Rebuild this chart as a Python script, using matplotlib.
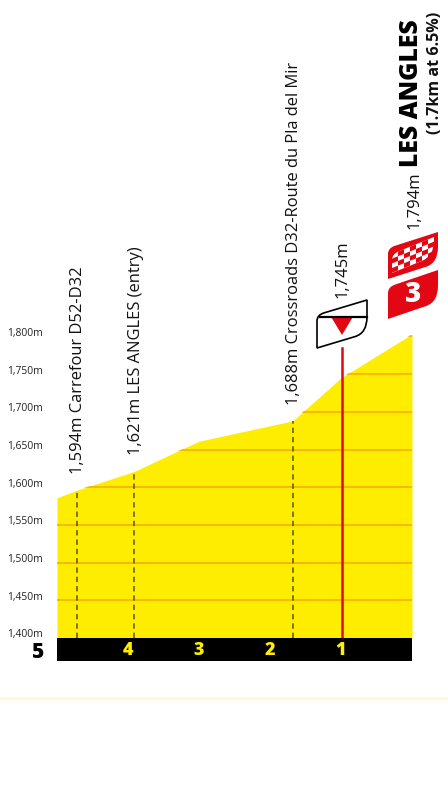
import matplotlib.pyplot as plt
from matplotlib.patches import Polygon, PathPatch, Rectangle
from matplotlib.path import Path
from matplotlib.transforms import ScaledTranslation

plt.rcParams['font.family'] = ['Open Sans', 'DejaVu Sans']

# profile
km = [5, 4.72, 3.91, 3.0, 1.68, 1.0, 0]
alt = [1586, 1596, 1621, 1661, 1688, 1745, 1803]

alt_ticks = [1400, 1450, 1500, 1550, 1600, 1650, 1700, 1750, 1800]
alt_labels = ['1,400m', '1,450m', '1,500m', '1,550m', '1,600m', '1,650m', '1,700m', '1,750m', '1,800m']

km_ticks = [4, 3, 2, 1]
km_labels = ['4', '3', '2', '1']

point_km = [4.72, 3.91, 1.68]
point_alt = [1596, 1621, 1688]
point_labels = ['1,594m Carrefour D52-D32', '1,621m LES ANGLES (entry)', '1,688m Crossroads D32-Route du Pla del Mir']

pass_km = 0.986
pass_top = 1785

W, H = 448, 800
fig = plt.figure(figsize=(W / 100, H / 100), dpi=100)

# main axes, 1400m at pixel 638, 0.754 px per metre
ax = fig.add_axes([57 / W, 1 - 638 / H, 355 / W, 638 / H])
ax.set_xlim(5, 0)
ax.set_ylim(1400, 1400 + 638 / 0.754)
poly = ax.fill_between(km, alt, 1400, color='#FFED00', lw=0, zorder=1)
for a in alt_ticks[1:]:
    line = ax.axhline(a, color='#F7B500', lw=1.3, zorder=2)
    line.set_clip_path(poly.get_paths()[0], ax.transData)
for k, a in zip(point_km, point_alt):
    ax.plot([k, k], [1400, a], color='#5a5200', lw=1.1, dashes=(3.5, 2.6), zorder=3)
ax.plot([pass_km, pass_km], [1400, pass_top], color='#E30613', lw=1.8, zorder=4)

for k, a, s in zip(point_km, point_alt, point_labels):
    ax.annotate(s, (k, a), xytext=(1.5, 16), textcoords='offset pixels', rotation=90,
                ha='center', va='bottom', fontsize=11.9, color='#111111')
ax.annotate('1,745m', (pass_km, 1745), xytext=(1, 80), textcoords='offset pixels', rotation=90,
            ha='center', va='bottom', fontsize=12, color='#111111')

ax.set_yticks(alt_ticks, alt_labels, fontsize=7.4, color='#222222')
ax.set_xticks([])
ax.tick_params(axis='y', length=0, pad=10.4)
# labels sit a little above their gridlines
for t in ax.get_yticklabels():
    t.set_va('bottom')
    t.set_transform(t.get_transform() + ScaledTranslation(0, -2.5 / 100, fig.dpi_scale_trans))
for s in ax.spines.values():
    s.set_visible(False)
ax.patch.set_alpha(0)

# km band
band = fig.add_axes([57 / W, 1 - 661 / H, 355 / W, 23 / H])
band.set_xlim(5, 0)
band.set_ylim(0, 1)
band.set_facecolor('black')
band.set_yticks([])
band.set_xticks([])
for s in band.spines.values():
    s.set_visible(False)
for k, s in zip(km_ticks, km_labels):
    band.text(k, 0.46, s, color='#FFED00', fontsize=13, fontweight='black', ha='center', va='center')

# overlay in pixels for the summit title and the badges
ov = fig.add_axes([0, 0, 1, 1])
ov.set_xlim(0, W)
ov.set_ylim(H, 0)
ov.axis('off')
ov.patch.set_alpha(0)

ov.text(38, 652, '5', color='black', fontsize=15, fontweight='black', ha='center', va='center')
ov.text(411, 167, 'LES ANGLES', rotation=90, fontsize=17.8, fontweight='black', ha='center', va='bottom', color='black')
ov.text(415, 229, '1,794m', rotation=90, fontsize=12, ha='center', va='bottom', color='#111111')
ov.text(435, 134, '(1.7km at 6.5%)', rotation=90, fontsize=11.6, fontweight='bold', ha='center', va='bottom', color='#111111')


def badge(x0, y0, x1, y1, rise, **kw):
    # slanted plate, top left and bottom right corners rounded
    slope = rise / (x1 - x0)
    verts = [(x0, y1), (x0, y0 + 6), (x0, y0), (x0 + 7, y0 - 7 * slope),
             (x1, y0 - rise), (x1, y1 - rise - 16), (x1, y1 - rise),
             (x1 - 12, y1 - rise + 12 * slope), (x0, y1), (x0, y1)]
    codes = [Path.MOVETO, Path.LINETO, Path.CURVE3, Path.CURVE3, Path.LINETO, Path.LINETO,
             Path.CURVE3, Path.CURVE3, Path.LINETO, Path.CLOSEPOLY]
    return PathPatch(Path(verts, codes), **kw)


# pass marker
ov.add_patch(badge(317, 315, 367, 348, 15, fc='white', ec='black', lw=1.2))
ov.plot([320, 367], [316.7, 316.7], color='black', lw=1.6)
ov.add_patch(Polygon([(331, 316.7), (353, 316.7), (342, 335)], fc='#E30613', ec='none'))

# finish badge, red checkers on white
ov.add_patch(badge(388, 248, 438, 279, 16, fc='#E30613', ec='none'))
ov.add_patch(badge(392, 254, 434, 273, 17, fc='white', ec='none'))
for i in range(7):
    for j in range(4):
        if (i + j) % 2 == 1:
            x = 392 + i * 6
            y = 254 - i * 2.43 + j * 4.7
            ov.add_patch(Polygon([(x, y), (x + 6, y - 2.43), (x + 6, y + 2.27), (x, y + 4.7)], fc='#E30613', ec='none'))

# category 3 badge
ov.add_patch(badge(388, 287, 438, 319, 17, fc='#E30613', ec='none'))
ov.text(413, 295, '3', color='white', fontsize=20, fontweight='black', ha='center', va='center')

# faint band under the chart
ov.add_patch(Rectangle((0, 697), W, 2.5, fc='#FFF9D6', ec='none'))

fig.savefig('out.png', dpi=100)
